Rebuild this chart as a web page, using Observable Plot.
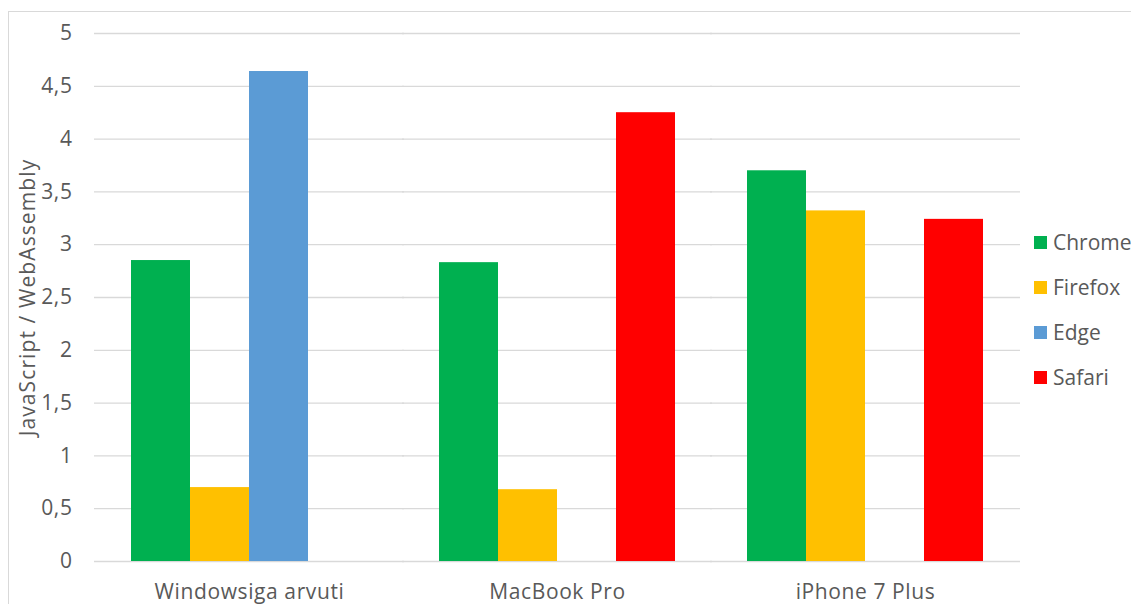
<!DOCTYPE html>
<html>
<head>
<meta charset="utf-8">
<script src="https://cdn.jsdelivr.net/npm/d3@7"></script>
<script src="https://cdn.jsdelivr.net/npm/@observablehq/plot@0.6"></script>
<style>
  html, body { margin: 0; padding: 0; background: #fff; }
  #wrap { position: relative; width: 1131px; height: 604px; overflow: hidden; font-family: "Open Sans", sans-serif; }
  #frame { position: absolute; left: 8px; top: 11px; width: 1200px; height: 700px; border-left: 1px solid #d9d9d9; border-top: 1px solid #d9d9d9; }
  #chart { position: absolute; left: 0; top: 0; }
  #legend { position: absolute; left: 1034px; top: 227px; color: #595959; font-size: 21px; }
  .item { height: 45px; display: flex; align-items: flex-start; line-height: 30px; }
  .sw { width: 13px; height: 13px; margin-top: 9px; margin-right: 6px; }
</style>
</head>
<body>
<div id="wrap">
  <div id="frame"></div>
  <div id="chart"></div>
  <div id="legend"></div>
</div>
<script>
const devices = ["Windowsiga arvuti", "MacBook Pro", "iPhone 7 Plus"];
const browsers = ["Chrome", "Firefox", "Edge", "Safari"];
const colors = ["#00B050", "#FFC000", "#5B9BD5", "#FF0000"];
const chrome  = [2.85, 2.83, 3.70];
const firefox = [0.70, 0.68, 3.32];
const edge    = [4.64, null, null];
const safari  = [null, 4.25, 3.24];
const yTicks = [0, 0.5, 1, 1.5, 2, 2.5, 3, 3.5, 4, 4.5, 5];
const yLabel = "JavaScript / WebAssembly";

const series = [chrome, firefox, edge, safari];
const data = [];
devices.forEach((d, i) => {
  browsers.forEach((b, j) => {
    const v = series[j][i];
    if (v != null) data.push({device: d, browser: b, value: v});
  });
});

const fmt = v => String(v).replace(".", ",");

const chart = Plot.plot({
  width: 1131,
  height: 604,
  marginLeft: 95,
  marginRight: 111,
  marginTop: 33,
  marginBottom: 43,
  style: {fontFamily: "Open Sans, sans-serif", color: "#595959", background: "transparent"},
  fx: {domain: devices, paddingInner: 0.233, paddingOuter: 0.1165, label: null},
  x: {domain: browsers, padding: 0, axis: null},
  y: {domain: [0, 5], label: null},
  color: {domain: browsers, range: colors},
  marks: [
    Plot.ruleY(yTicks, {stroke: "#d9d9d9", strokeWidth: 1.3, insetLeft: -37, insetRight: -37}),
    Plot.barY(data, {fx: "device", x: "browser", y: "value", fill: "browser"}),
    Plot.axisY(yTicks, {tickSize: 0, tickPadding: 59, tickFormat: fmt, fontSize: 21, label: yLabel, labelAnchor: "center", labelArrow: "none", labelOffset: 111}),
    Plot.axisFx({anchor: "bottom", tickSize: 0, tickPadding: 23, fontSize: 21, label: null})
  ]
});
document.getElementById("chart").appendChild(chart);

// letter spacing tweaks to approximate the original face
chart.querySelectorAll("text").forEach(t => t.setAttribute("letter-spacing", "0.6"));
chart.querySelectorAll("[aria-label='y-axis label'] text, text[aria-label='y-axis label']").forEach(t => {
  t.setAttribute("letter-spacing", "1.1");
});
const yl = chart.querySelector("[aria-label='y-axis label']");
if (yl) { yl.setAttribute("font-size", 21); yl.setAttribute("letter-spacing", "1.1"); }

const legend = document.getElementById("legend");
browsers.forEach((b, j) => {
  const it = document.createElement("div");
  it.className = "item";
  const sw = document.createElement("div");
  sw.className = "sw";
  sw.style.background = colors[j];
  const t = document.createElement("span");
  t.textContent = b;
  it.appendChild(sw); it.appendChild(t);
  legend.appendChild(it);
});
</script>
</body>
</html>
